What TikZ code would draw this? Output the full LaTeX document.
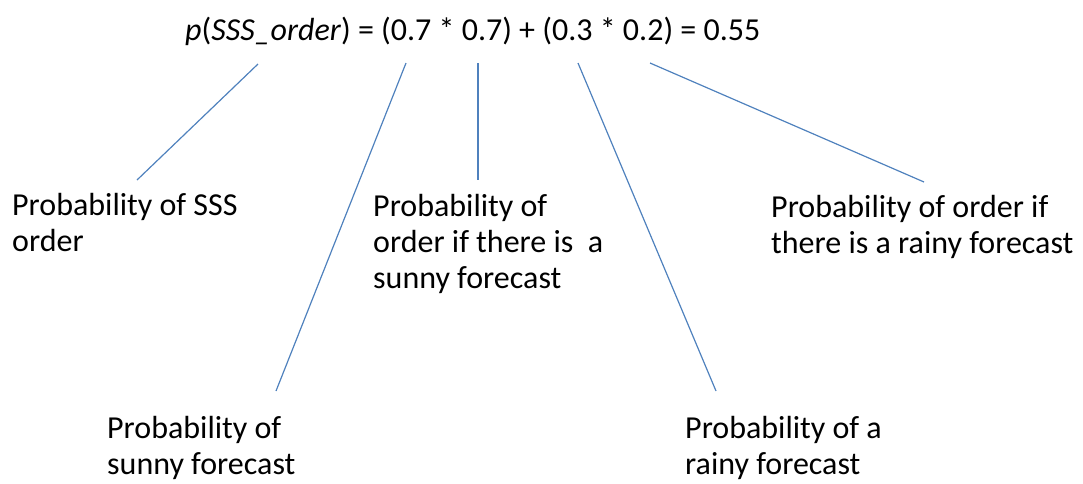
\documentclass[tikz,border=0pt]{standalone}
\usepackage{fontspec}
\setmainfont{Carlito}
\usepackage{xcolor}
\definecolor{leader}{HTML}{4F81BD}
\usepackage{tikz}
\usetikzlibrary{positioning}

\begin{document}
\begin{tikzpicture}[x=1pt, y=-1pt,
                   lbl/.style={anchor=base west, inner sep=0pt, align=left,
                               font=\fontsize{32}{36}\selectfont},
                   pointer/.style={draw=leader, line width=1.2pt}]
    \useasboundingbox (0,0) rectangle (1083,483);
    \node[lbl] (formula) at (185,40) {\textit{p}(\textit{SSS\_order}) = (0.7 * 0.7) + (0.3 * 0.2) = 0.55};
    \node[lbl] (porder)  at (12,251)  {Probability of SSS\\order};
    \node[lbl] (psunord) at (373,288) {Probability of\\order if there is\ \ a\\sunny forecast};
    \node[lbl] (prainord) at (771,253) {Probability of order if\\there is a rainy forecast};
    \node[lbl] (psunny)  at (107,474) {Probability of\\sunny forecast};
    \node[lbl] (prainy)  at (685,474) {Probability of a\\rainy forecast};
    % ends of the pointers
    \coordinate (pt-p)   at (258,64);
    \coordinate (pt-s1)  at (406,63);
    \coordinate (pt-o1)  at (478,63);
    \coordinate (pt-s2)  at (578,63);
    \coordinate (pt-o2)  at (650,63);
    \coordinate (to-p)   at (137,180);
    \coordinate (to-s1)  at (276,391);
    \coordinate (to-o1)  at (478,180);
    \coordinate (to-s2)  at (716,391);
    \coordinate (to-o2)  at (924,182);
    \draw[pointer] (pt-p) -- (to-p);
    \draw[pointer] (pt-s1) -- (to-s1);
    \draw[pointer] (pt-o1) -- (to-o1);
    \draw[pointer] (pt-s2) -- (to-s2);
    \draw[pointer] (pt-o2) -- (to-o2);
\end{tikzpicture}
\end{document}
